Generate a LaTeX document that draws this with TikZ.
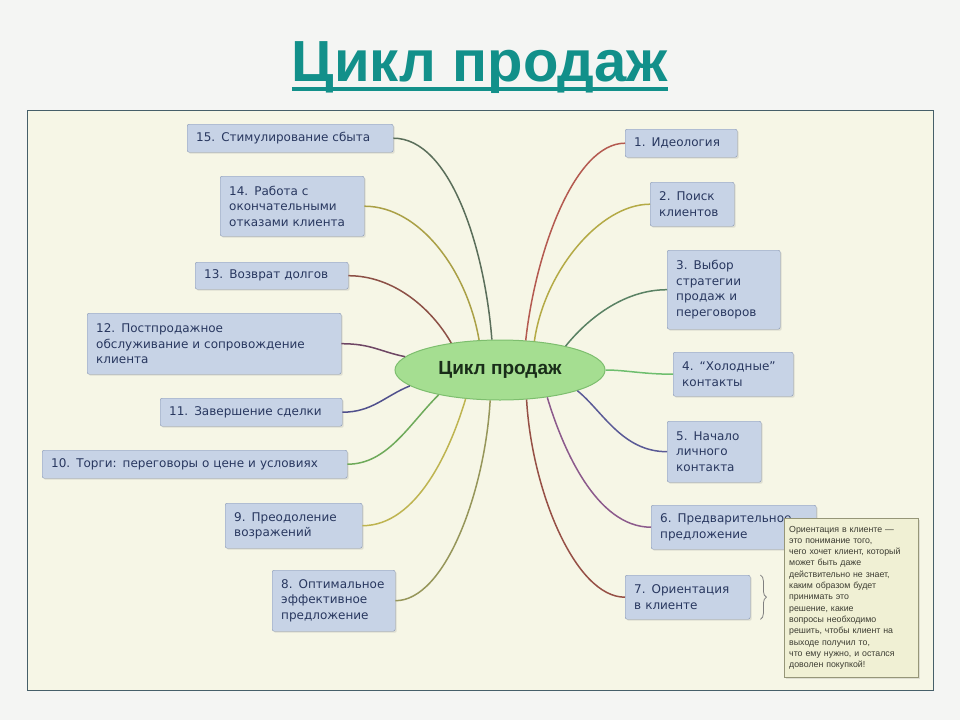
\documentclass[tikz,border=0pt]{standalone}
\usepackage{fontspec}
\setmainfont{DejaVu Sans}
\newfontfamily\headfont{Liberation Sans}
\usetikzlibrary{positioning}
\usetikzlibrary{shapes.geometric}
\usetikzlibrary{shadows}
\usetikzlibrary{decorations.pathreplacing}

\definecolor{pagegray}{RGB}{244,245,243}
\definecolor{framefill}{RGB}{246,246,230}
\definecolor{frameline}{RGB}{70,95,105}
\definecolor{titleteal}{RGB}{18,144,138}
\definecolor{boxfill}{RGB}{199,211,230}
\definecolor{boxline}{RGB}{135,150,178}
\definecolor{boxtext}{RGB}{40,55,95}
\definecolor{hubfill}{RGB}{165,222,145}
\definecolor{hubline}{RGB}{125,190,110}
\definecolor{hubtext}{RGB}{25,45,25}
\definecolor{notefill}{RGB}{240,240,212}
\definecolor{noteline}{RGB}{150,150,120}
\definecolor{notetext}{RGB}{60,60,50}
\definecolor{c15}{RGB}{90,110,90}
\definecolor{c14}{RGB}{170,160,70}
\definecolor{c13}{RGB}{140,80,70}
\definecolor{c12}{RGB}{110,70,100}
\definecolor{c11}{RGB}{80,80,140}
\definecolor{c10}{RGB}{110,170,90}
\definecolor{c9}{RGB}{190,180,80}
\definecolor{c8}{RGB}{150,150,90}
\definecolor{c1}{RGB}{180,90,80}
\definecolor{c2}{RGB}{180,170,70}
\definecolor{c3}{RGB}{90,130,100}
\definecolor{c4}{RGB}{110,190,110}
\definecolor{c5}{RGB}{90,90,150}
\definecolor{c6}{RGB}{140,90,140}
\definecolor{c7}{RGB}{150,80,70}

\tikzset{
	stage/.style = {draw = boxline, fill = boxfill, rounded corners = 2pt, anchor = north west, align = left, inner xsep = 9pt, inner ysep = 0pt, text = boxtext, font = \fontsize{12}{15.5}\selectfont, drop shadow = {opacity = 0.2, shadow xshift = 1.5pt, shadow yshift = -1.5pt}},
	branch/.style = {line width = 1.5pt},
}

\begin{document}
\begin{tikzpicture}[x = 1pt, y = -1pt]
	\fill [pagegray] (0, 0) rectangle (960, 720);
	\useasboundingbox (0, 0) rectangle (960, 720);
	\node (title) at (480, 81) [anchor = base, inner sep = 0pt, text = titleteal, font = \headfont\bfseries\fontsize{58}{58}\selectfont] {Цикл продаж};
	\draw [titleteal, line width = 4pt] ([yshift = -8pt] title.base west) -- ([yshift = -8pt] title.base east);
	\draw [frameline, fill = framefill, line width = 1pt] (27, 110) rectangle (933, 690);

	\node (hub) at (500, 370) [ellipse, draw = hubline, fill = hubfill, line width = 1pt, minimum width = 210pt, minimum height = 60pt, inner sep = 0pt, text = hubtext, font = \headfont\bfseries\fontsize{19}{19}\selectfont] {Цикл продаж};

	\node (s15) at (187, 124) [stage, text width = 188pt, minimum height = 28pt] {15. Стимулирование сбыта};
	\node (s14) at (220, 176) [stage, text width = 126pt, minimum height = 60pt] {14. Работа с\\окончательными\\отказами клиента};
	\node (s13) at (195, 262) [stage, text width = 135pt, minimum height = 27pt] {13. Возврат долгов};
	\node (s12) at (87, 313) [stage, text width = 236pt, minimum height = 61pt] {12. Постпродажное\\обслуживание и сопровождение\\клиента};
	\node (s11) at (160, 398) [stage, text width = 164pt, minimum height = 28pt] {11. Завершение сделки};
	\node (s10) at (42, 450) [stage, text width = 287pt, minimum height = 28pt] {10. Торги: переговоры о цене и условиях};
	\node (s9) at (225, 503) [stage, text width = 119pt, minimum height = 45pt] {9. Преодоление\\возражений};
	\node (s8) at (272, 570) [stage, text width = 105pt, minimum height = 61pt] {8. Оптимальное\\эффективное\\предложение};

	\node (s1) at (625, 129) [stage, text width = 94pt, minimum height = 28pt] {1. Идеология};
	\node (s2) at (650, 182) [stage, text width = 66pt, minimum height = 44pt] {2. Поиск\\клиентов};
	\node (s3) at (667, 250) [stage, text width = 95pt, minimum height = 79pt] {3. Выбор\\стратегии\\продаж и\\переговоров};
	\node (s4) at (673, 352) [stage, text width = 102pt, minimum height = 44pt] {4. “Холодные”\\контакты};
	\node (s5) at (667, 421) [stage, text width = 76pt, minimum height = 61pt] {5. Начало\\личного\\контакта};
	\node (s6) at (651, 505) [stage, text width = 147pt, minimum height = 44pt] {6. Предварительное\\предложение};
	\node (s7) at (625, 575) [stage, text width = 107pt, minimum height = 44pt] {7. Ориентация\\в клиенте};

	\draw [branch, c15] (s15.east) .. controls +(57, 0) and +(-7, -91) .. (hub.105);
	\draw [branch, c14] (s14.east) .. controls +(55, 0) and +(-12, -70) .. (hub.125);
	\draw [branch, c13] (s13.east) .. controls +(45, 0) and +(-20, -35) .. (hub.151);
	\draw [branch, c12] (s12.east) .. controls +(30, 0) and +(-25, -5) .. (hub.172);
	\draw [branch, c11] (s11.east) .. controls +(30, 0) and +(-25, 10) .. (hub.190);
	\draw [branch, c10] (s10.east) .. controls +(40, 0) and +(-30, 30) .. (hub.202);
	\draw [branch, c9] (s9.east) .. controls +(55, 0) and +(-15, 50) .. (hub.220);
	\draw [branch, c8] (s8.east) .. controls +(50, 0) and +(-5, 90) .. (hub.252);
	\draw [branch, c1] (s1.west) .. controls +(-50, 0) and +(10, -90) .. (hub.49);
	\draw [branch, c2] (s2.west) .. controls +(-50, 0) and +(10, -70) .. (hub.40);
	\draw [branch, c3] (s3.west) .. controls +(-45, 0) and +(20, -25) .. (hub.20);
	\draw [branch, c4] (s4.west) .. controls +(-30, 0) and +(20, 0) .. (hub.0);
	\draw [branch, c5] (s5.west) .. controls +(-45, 0) and +(25, 20) .. (hub.345);
	\draw [branch, c6] (s6.west) .. controls +(-55, 0) and +(15, 50) .. (hub.330);
	\draw [branch, c7] (s7.west) .. controls +(-50, 0) and +(5, 90) .. (hub.312);

	\coordinate (brtop) at ([xshift = 10pt] s7.north east);
	\coordinate (brbot) at ([xshift = 10pt] s7.south east);
	\draw [gray, line width = 0.8pt, decorate, decoration = {brace, amplitude = 6pt}] (brtop) -- (brbot);

	\node (note) at (784, 518) [anchor = north west, draw = noteline, fill = notefill, text width = 124pt, minimum height = 159pt, inner xsep = 5pt, inner ysep = 3pt, align = left, text = notetext, font = \headfont\fontsize{8.8}{11.3}\selectfont, drop shadow = {opacity = 0.2, shadow xshift = 1.5pt, shadow yshift = -1.5pt}] {Ориентация в клиенте —\\это понимание того,\\чего хочет клиент, который\\может быть даже\\действительно не знает,\\каким образом будет\\принимать это\\решение, какие\\вопросы необходимо\\решить, чтобы клиент на\\выходе получил то,\\что ему нужно, и остался\\доволен покупкой!};
\end{tikzpicture}
\end{document}
